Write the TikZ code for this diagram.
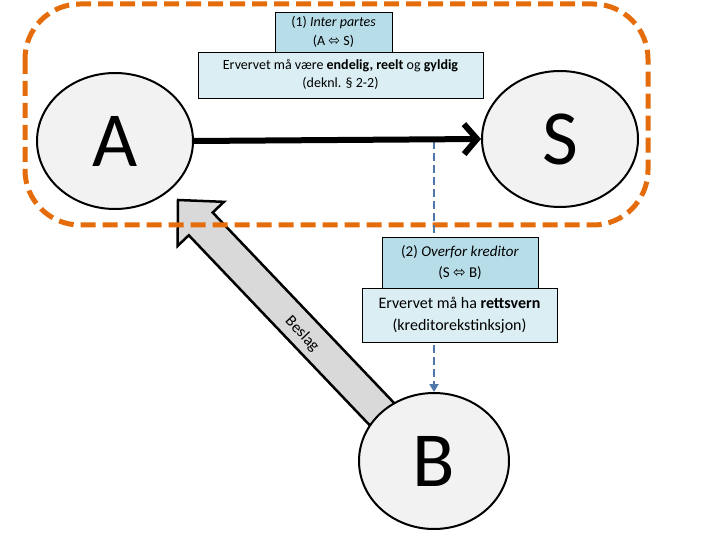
\documentclass[tikz,border=0pt]{standalone}
\usepackage{fontspec}
\setmainfont{Carlito}
\newfontfamily\arrowfont{DejaVu Sans}
\usetikzlibrary{positioning, calc, arrows.meta, shapes.geometric}

\definecolor{partyfill}{HTML}{F2F2F2}
\definecolor{headfill}{HTML}{B7DDE8}
\definecolor{rulefill}{HTML}{DAEEF3}
\definecolor{groupline}{HTML}{E46C0A}
\definecolor{kredline}{HTML}{4F77AA}
\definecolor{seizefill}{HTML}{D9D9D9}

\newcommand{\dblarrow}{{\arrowfont ⬄}}

\tikzset{
  party/.style={ellipse, draw, line width=2pt, fill=partyfill,
    minimum width=156pt, minimum height=136pt, inner sep=0pt,
    font=\fontsize{78}{78}\selectfont},
  headbox/.style={draw, line width=0.8pt, fill=headfill, align=center, inner sep=0pt},
  rulebox/.style={draw, line width=0.8pt, fill=rulefill, align=center, inner sep=0pt},
}

\begin{document}
\begin{tikzpicture}[x=1pt, y=-1pt]
    \useasboundingbox (0,0) rectangle (720,540);

    % Define nodes
    \node[party]		(A)		at (115,141)	{A};
    \node[party]		(S)		at (560,139)	{S};
    \coordinate		(split)		at (434,141);
    \coordinate		(beslagtip)		at (178,200);

    % Beslag arrow (behind B)
    \begin{scope}[shift={(beslagtip)}, rotate=-46.4]
      \draw[line width=2.5pt, fill=seizefill, line join=miter]
        (0,0) -- (33,-32) -- (33,-16.5) -- (300,-16.5) -- (300,16.5)
        -- (33,16.5) -- (33,32) -- cycle;
    \end{scope}
    \node[rotate=-46.4, font=\fontsize{16}{16}\selectfont]		(beslag)		at (302,334)	{Beslag};
    \node[party, minimum width=150pt]		(B)		at (434,461)	{B};

    % Group of A and S
    \draw[groupline, line width=5pt, dash pattern=on 15pt off 7pt, rounded corners=55pt]
      (25,4) rectangle (648,225);

    % Connect nodes
    \draw[kredline, line width=2.5pt, dash pattern=on 8pt off 4pt,
      -{Triangle[length=8pt, width=9pt]}] (split) -- (B.north);
    \draw[line width=6pt, -{Straight Barb[length=13pt, width=30pt]}] (A.east) -- (S.west);

    % Boxes
    \node[headbox, minimum width=117pt, minimum height=40pt,
      font=\fontsize{14}{19}\selectfont]		(inter)		at (333.5,32)
      {(1) \textit{Inter partes}\\(A \dblarrow{} S)};
    \node[rulebox, minimum width=285pt, minimum height=46pt,
      font=\fontsize{14}{18}\selectfont]		(endelig)		at (340.5,75)
      {Ervervet må være \textbf{endelig, reelt} og \textbf{gyldig}\\(deknl. § 2-2)};
    \node[headbox, minimum width=156pt, minimum height=51pt,
      font=\fontsize{15}{21}\selectfont]		(overfor)		at (460,262.5)
      {(2) \textit{Overfor kreditor}\\(S \dblarrow{} B)};
    \node[rulebox, minimum width=195pt, minimum height=54pt,
      font=\fontsize{16}{22}\selectfont]		(rettsvern)		at (459.5,315)
      {Ervervet må ha \textbf{rettsvern}\\(kreditorekstinksjon)};
\end{tikzpicture}
\end{document}
